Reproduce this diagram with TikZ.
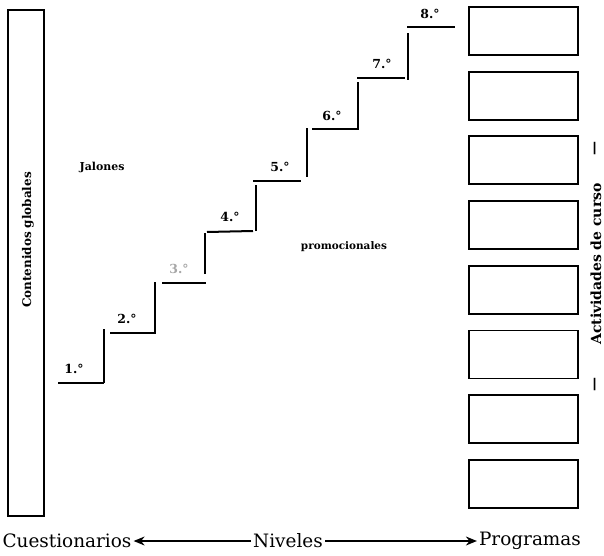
\documentclass[tikz,border=0pt]{standalone}
\usepackage{fontspec}
\setmainfont{DejaVu Serif}
\usetikzlibrary{arrows.meta}
\tikzset{
  stepline/.style={line width=2bp},
  boxstyle/.style={draw, line width=1.8bp, minimum width=109bp, minimum height=48bp, inner sep=0pt},
  steplabel/.style={font=\bfseries\fontsize{12.5}{14}\selectfont, inner sep=0pt},
  bottomtext/.style={font=\fontsize{18.5}{21}\selectfont, inner sep=2bp},
  arr/.style={-{Stealth[length=11bp,width=9bp]}, line width=1.3bp},
  sidetext/.style={rotate=90, font=\bfseries\fontsize{14}{16}\selectfont, inner sep=0pt}
}
\begin{document}
\begin{tikzpicture}[x=1bp,y=-1bp]
\useasboundingbox (0,0) rectangle (604,556);
% left tall box
\node[draw, line width=2.2bp, minimum width=36bp, minimum height=506bp, inner sep=0pt] (glob) at (26,263) {};
\node[rotate=90, font=\bfseries\fontsize{12}{14}\selectfont] (globt) at (28,240) {Contenidos globales};
% staircase
\draw[stepline] (58,383) -- (104,383);
\draw[stepline] (104,383) -- (104,329);
\draw[stepline] (110,333) -- (156,333);
\draw[stepline] (155,332) -- (155,282);
\draw[stepline] (162,283) -- (206,283);
\draw[stepline] (205,274) -- (205,233);
\draw[stepline] (207,232) -- (253,231);
\draw[stepline] (256,231) -- (256,185);
\draw[stepline] (253,181) -- (301,181);
\draw[stepline] (307,177) -- (307,128);
\draw[stepline] (312,129) -- (358,129);
\draw[stepline] (358,130) -- (358,82);
\draw[stepline] (357,78) -- (405,78);
\draw[stepline] (408,80) -- (408,33);
\draw[stepline] (407,27) -- (455,27);
% step labels
\node[steplabel] (s1) at (74,369) {1.°};
\node[steplabel] (s2) at (127,319) {2.°};
\node[steplabel, text=black!35] (s3) at (179,269) {3.°};
\node[steplabel] (s4) at (230,217) {4.°};
\node[steplabel] (s5) at (280,167) {5.°};
\node[steplabel] (s6) at (332,116) {6.°};
\node[steplabel] (s7) at (382,64) {7.°};
\node[steplabel] (s8) at (430,14) {8.°};
\node[font=\bfseries\fontsize{11}{13}\selectfont] (jal) at (102,167) {Jalones};
\node[font=\bfseries\fontsize{10.5}{12}\selectfont] (prom) at (344,247) {promocionales};
% right boxes
\foreach \i in {0,...,7} {
  \node[boxstyle] (b\i) at (523.5,{31+64.7*\i}) {};
}
\node[sidetext] (act) at (596,264) {Actividades de curso};
\node[sidetext] (dtop) at (596,149) {—};
\node[sidetext] (dbot) at (596,385) {—};
% bottom
\node[bottomtext] (cu) at (67,541) {Cuestionarios};
\node[bottomtext] (niv) at (288,541) {Niveles};
\node[bottomtext] (prog) at (530,541) {Programas};
\draw[arr] (niv) -- (cu);
\draw[arr] (niv) -- (prog);
\end{tikzpicture}
\end{document}
